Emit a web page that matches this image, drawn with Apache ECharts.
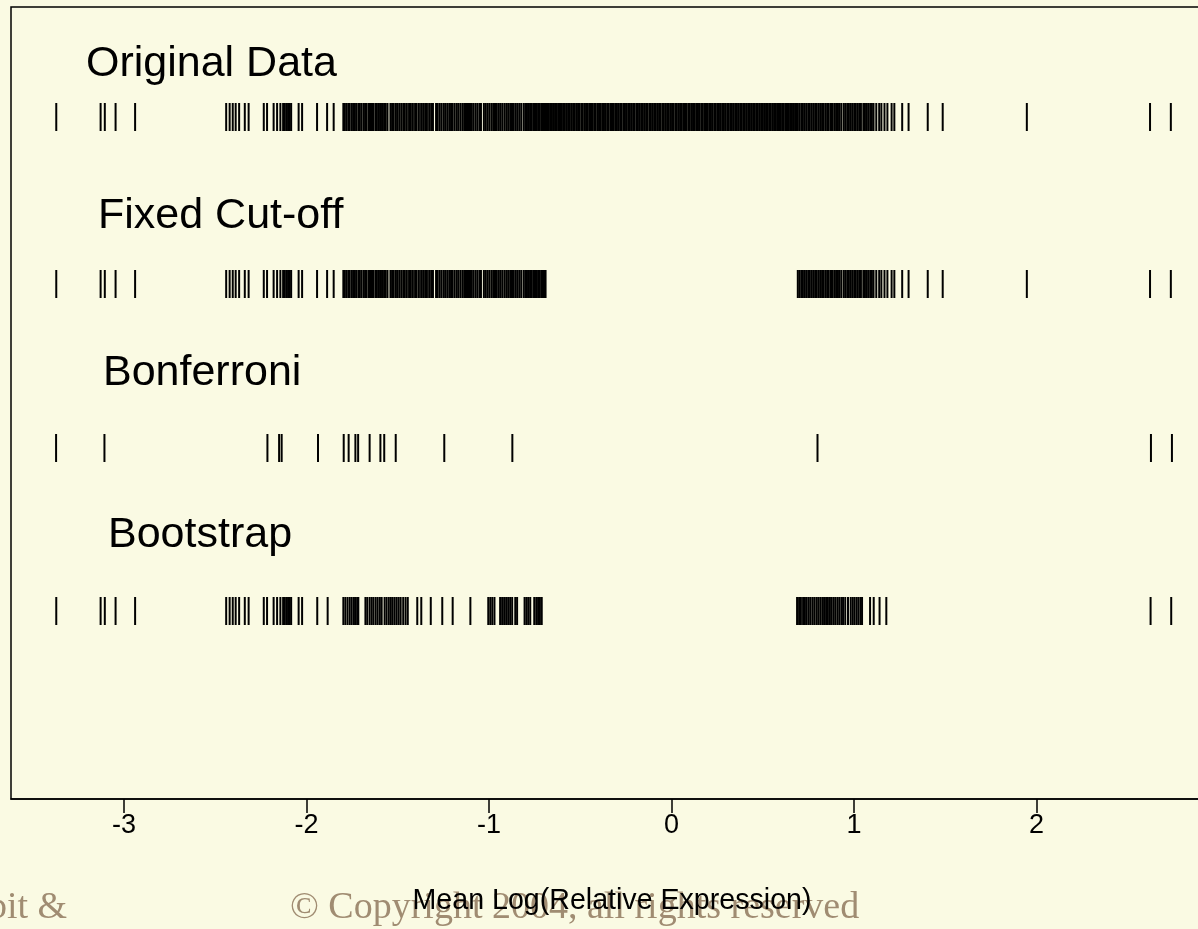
<!DOCTYPE html>
<html lang="en">
<head>
<meta charset="UTF-8">
<title>Rug plot</title>
<script src="https://cdn.jsdelivr.net/npm/echarts@6.0.0/dist/echarts.min.js"></script>
<style>html,body{margin:0;padding:0;background:#FAFAE3;overflow:hidden;}</style>
</head>
<body>
<!-- plot box runs past the right edge of the window, as in the original slide -->
<div id="main" style="width:1216px;height:929px;"></div>
<script>
const xTicks = [-3, -2, -1, 0, 1, 2];
const rowNames = ['Original Data', 'Fixed Cut-off', 'Bonferroni', 'Bootstrap'];

// genes below the cut-off, sparse part
const lowTail = [-3.371, -3.128, -3.105, -3.046, -2.939,
  -2.440, -2.421, -2.404, -2.388, -2.369, -2.338, -2.317,
  -2.234, -2.216, -2.180, -2.161, -2.143, -2.128, -2.119, -2.110, -2.101, -2.092, -2.084, -2.043, -2.024,
  -1.942, -1.887, -1.851];
// genes below the cut-off, dense part
const lowDense = [-1.798, -1.790, -1.781, -1.771, -1.763, -1.752, -1.744, -1.735, -1.727, -1.716, -1.708, -1.699,
  -1.688, -1.679, -1.671, -1.660, -1.652, -1.641, -1.633, -1.622, -1.614, -1.603, -1.594, -1.586, -1.575, -1.566,
  -1.556, -1.540, -1.531, -1.522, -1.511, -1.503, -1.492, -1.481, -1.470, -1.461, -1.450, -1.438, -1.428, -1.417,
  -1.405, -1.396, -1.384, -1.372, -1.361, -1.350, -1.340, -1.328, -1.317, -1.307, -1.290, -1.281, -1.270, -1.260,
  -1.249, -1.240, -1.229, -1.218, -1.208, -1.199, -1.188, -1.177, -1.168, -1.157, -1.146, -1.136, -1.126, -1.115,
  -1.104, -1.094, -1.084, -1.073, -1.063, -1.052, -1.044, -1.028, -1.018, -1.008, -0.998, -0.987, -0.977, -0.967,
  -0.957, -0.946, -0.936, -0.926, -0.915, -0.905, -0.895, -0.884, -0.874, -0.864, -0.853, -0.843, -0.833, -0.823,
  -0.810, -0.801, -0.792, -0.784, -0.775, -0.766, -0.757, -0.748, -0.740, -0.731, -0.722, -0.713, -0.704, -0.696,
  -0.690];
// genes removed by the fixed cut-off
const middle = [-0.682, -0.673, -0.665, -0.655, -0.646, -0.638, -0.628, -0.619, -0.611, -0.601, -0.593, -0.584,
  -0.574, -0.566, -0.557, -0.548, -0.539, -0.530, -0.521, -0.512, -0.504, -0.494, -0.486, -0.476, -0.468, -0.459,
  -0.450, -0.441, -0.432, -0.423, -0.415, -0.405, -0.397, -0.388, -0.379, -0.370, -0.361, -0.352, -0.344, -0.334,
  -0.326, -0.317, -0.308, -0.299, -0.290, -0.281, -0.273, -0.263, -0.255, -0.246, -0.237, -0.228, -0.219, -0.210,
  -0.202, -0.192, -0.184, -0.175, -0.166, -0.157, -0.148, -0.139, -0.131, -0.121, -0.113, -0.104, -0.095, -0.086,
  -0.077, -0.068, -0.060, -0.050, -0.042, -0.033, -0.024, -0.015, -0.006, 0.003, 0.011, 0.021, 0.029, 0.038,
  0.047, 0.056, 0.065, 0.074, 0.082, 0.092, 0.100, 0.109, 0.118, 0.127, 0.136, 0.145, 0.153, 0.163, 0.171, 0.180,
  0.189, 0.198, 0.207, 0.216, 0.224, 0.234, 0.242, 0.251, 0.260, 0.269, 0.278, 0.287, 0.295, 0.305, 0.313, 0.322,
  0.331, 0.340, 0.349, 0.358, 0.366, 0.376, 0.384, 0.393, 0.402, 0.411, 0.420, 0.429, 0.437, 0.447, 0.455, 0.464,
  0.473, 0.482, 0.491, 0.500, 0.508, 0.518, 0.526, 0.535, 0.544, 0.553, 0.562, 0.571, 0.579, 0.589, 0.597, 0.606,
  0.615, 0.624, 0.633, 0.642, 0.650, 0.660, 0.668, 0.677, 0.686];
// genes above the cut-off, dense part
const highDense = [0.692, 0.701, 0.711, 0.720, 0.730, 0.739, 0.749, 0.758, 0.768, 0.777, 0.787, 0.796, 0.806,
  0.815, 0.825, 0.834, 0.844, 0.853, 0.862, 0.874, 0.883, 0.893, 0.902, 0.912, 0.921, 0.931, 0.944, 0.953, 0.963,
  0.972, 0.982, 0.991, 1.001, 1.010, 1.020, 1.029, 1.038, 1.051, 1.060, 1.070, 1.079, 1.089, 1.098, 1.107, 1.122,
  1.138, 1.150, 1.167, 1.183, 1.206, 1.221];
// genes above the cut-off, sparse part
const highTail = [1.264, 1.299, 1.404, 1.486, 1.947, 2.622, 2.736];

const bonferroni = [-3.372, -3.107, -2.214, -2.150, -2.136, -1.937, -1.796, -1.769, -1.732, -1.717, -1.654,
  -1.595, -1.574, -1.511, -1.245, -0.872, 0.800, 2.627, 2.742];

const bootstrap = [-3.371, -3.128, -3.105, -3.046, -2.939,
  -2.440, -2.421, -2.404, -2.388, -2.369, -2.338, -2.317,
  -2.234, -2.216, -2.180, -2.161, -2.143, -2.128, -2.119, -2.110, -2.101, -2.092, -2.084, -2.043, -2.024,
  -1.941, -1.884,
  -1.798, -1.787, -1.775, -1.763, -1.752, -1.740, -1.731, -1.722, -1.716,
  -1.677, -1.667, -1.654, -1.643, -1.633, -1.621, -1.610, -1.598, -1.588, -1.572, -1.561, -1.549, -1.538, -1.528,
  -1.517, -1.506, -1.495, -1.484, -1.470, -1.457, -1.445,
  -1.393, -1.371, -1.319, -1.256, -1.199, -1.102,
  -1.004, -0.993, -0.982, -0.970, -0.939, -0.928, -0.917, -0.906, -0.895, -0.884, -0.873, -0.856, -0.846,
  -0.805, -0.795, -0.785, -0.774, -0.752, -0.741, -0.731, -0.721, -0.711,
  0.688, 0.699, 0.709, 0.721, 0.731, 0.741, 0.752, 0.762, 0.773, 0.783, 0.794, 0.804, 0.815, 0.826, 0.836, 0.847,
  0.857, 0.868, 0.878, 0.889, 0.899, 0.910, 0.920, 0.931, 0.940, 0.952, 0.967, 0.982, 0.993, 1.003, 1.014, 1.024,
  1.035, 1.044, 1.088, 1.108, 1.140, 1.177, 2.625, 2.738];

const original = lowTail.concat(lowDense, middle, highDense, highTail);
const fixedCutoff = lowTail.concat(lowDense, highDense, highTail);
const rows = [original, fixedCutoff, bonferroni, bootstrap];

// layout
const rowY = [110, 277, 441, 604];           // rug centre, px below top of plot
const labelXY = [[86, 64], [98, 216], [103, 373], [108, 535]];

const myChart = echarts.init(document.getElementById('main'));

const series = rows.map(function (vals, i) {
  return {
    type: 'scatter',
    name: rowNames[i],
    silent: true,
    symbol: 'rect',
    symbolSize: [2, 28],
    itemStyle: { color: '#000', opacity: 1 },
    data: vals.map(function (v) { return [v, rowY[i]]; })
  };
});

const graphic = rowNames.map(function (name, i) {
  return {
    type: 'text',
    style: {
      text: name,
      x: labelXY[i][0],
      y: labelXY[i][1],
      verticalAlign: 'middle',
      font: '43px "Liberation Sans", Arial, sans-serif',
      fill: '#000'
    }
  };
});
graphic.push({
  type: 'text', z: -1,
  style: { text: 'bit &', x: -12, y: 908, verticalAlign: 'middle',
    font: '38px "Liberation Serif", serif', fill: '#A08C72' }
});
graphic.push({
  type: 'text', z: -1,
  style: { text: '© Copyright 2004, all rights reserved', x: 290, y: 908, verticalAlign: 'middle',
    font: '38px "Liberation Serif", serif', fill: '#A08C72' }
});

myChart.setOption({
  backgroundColor: '#FAFAE3',
  animation: false,
  grid: {
    left: 11, top: 7, right: 3, bottom: 130,
    show: true, borderColor: '#000', borderWidth: 1.5
  },
  xAxis: {
    type: 'value',
    position: 'bottom',
    min: -3.619,
    max: 2.967,
    splitLine: { show: false },
    axisLine: { show: true, onZero: false, lineStyle: { color: '#000', width: 1.5 } },
    axisTick: { show: true, customValues: xTicks, length: 14, lineStyle: { color: '#000', width: 1.5 } },
    axisLabel: { customValues: xTicks, margin: 13, fontSize: 27, color: '#000',
      fontFamily: '"Liberation Sans", Arial, sans-serif' },
    name: 'Mean Log(Relative Expression)',
    nameLocation: 'middle',
    nameGap: 88,
    nameTextStyle: { fontSize: 28.6, color: '#000', fontFamily: '"Liberation Sans", Arial, sans-serif' }
  },
  yAxis: { type: 'value', min: 0, max: 792, inverse: true, show: false },
  graphic: graphic,
  series: series
});
</script>
</body>
</html>
